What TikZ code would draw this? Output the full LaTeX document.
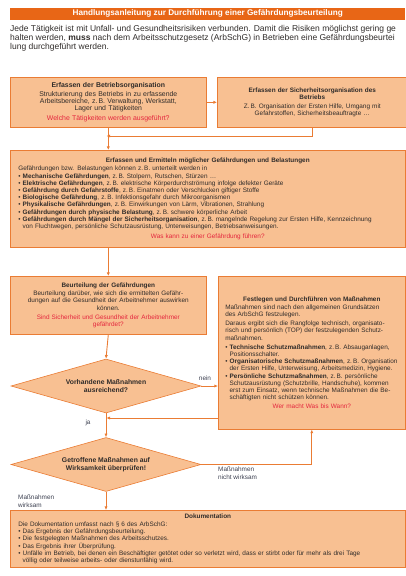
\documentclass[tikz,border=0pt]{standalone}
\usepackage{fontspec}
\setmainfont{Liberation Sans}
\usetikzlibrary{arrows.meta,shapes.geometric}

\definecolor{barorange}{RGB}{232,102,22}
\definecolor{boxfill}{RGB}{248,192,146}
\definecolor{lineorange}{RGB}{234,124,52}
\definecolor{askred}{RGB}{228,38,62}
\definecolor{txt}{RGB}{48,44,42}
\definecolor{lbl}{RGB}{60,64,80}

\newcommand{\ask}[1]{{\color{askred}#1}}
\newcommand{\bul}{\textbullet\ }
\newcommand{\ind}{\phantom{\textbullet\ }}

\begin{document}
\begin{tikzpicture}[x=1pt,y=-1pt]
  \tikzstyle{every node}=[font=\fontsize{6.4}{7.2}\selectfont, text=txt, inner sep=0pt]
  \tikzstyle{box}=[draw=lineorange, fill=boxfill, line width=0.6pt, anchor=north west, inner xsep=9pt]
  \tikzstyle{ask}=[diamond, aspect=3.5, draw=lineorange, fill=boxfill, line width=0.6pt, minimum width=190pt, minimum height=54pt, align=center, font=\bfseries\fontsize{6.8}{7.8}\selectfont]
  \tikzstyle{edge}=[lineorange, line width=0.9pt, -{Latex[length=3.6pt,width=3.2pt]}]
  \tikzstyle{lab}=[align=left, anchor=north west, text=lbl]

  \useasboundingbox (0,0) rectangle (406,576);

  % header and intro
  \node[anchor=north west, fill=barorange, minimum width=395pt, minimum height=12pt, text=white, font=\bfseries\fontsize{8.2}{9}\selectfont] (title) at (10,7.5) {Handlungsanleitung zur Durchführung einer Gefährdungsbeurteilung};
  \node[anchor=north west, align=left, font=\fontsize{8.5}{9.2}\selectfont] (intro) at (10,25) {Jede Tätigkeit ist mit Unfall- und Gesundheitsrisiken verbunden. Damit die Risiken möglichst gering ge\\halten werden, \textbf{muss} nach dem Arbeitsschutzgesetz (ArbSchG) in Betrieben eine Gefährdungsbeurtei\\lung durchgeführt werden.};

  % first row
  \node[box, minimum width=192pt, minimum height=50pt, text width=178pt, align=center, font=\fontsize{6.9}{7.4}\selectfont] (betrieb) at (10,77) {\textbf{Erfassen der Betriebsorganisation}\\[1pt]
    Strukturierung des Betriebs in zu erfassende\\Arbeitsbereiche, z.\,B. Verwaltung, Werkstatt,\\Lager und Tätigkeiten\\[2pt]
    \ask{Welche Tätigkeiten werden ausgeführt?}};
  \node[box, minimum width=188pt, minimum height=50pt, text width=172pt, align=center] (sicher) at (217,77) {\textbf{Erfassen der Sicherheitsorganisation des}\\\textbf{Betriebs}\\[2pt]
    Z.\,B. Organisation der Ersten Hilfe, Umgang mit\\Gefahrstoffen, Sicherheitsbeauftragte \dots};

  % hazards
  \node[box, minimum width=395pt, minimum height=97pt, text width=379pt, align=left, inner xsep=8pt] (ermitteln) at (10,150) {{\centering\textbf{Erfassen und Ermitteln möglicher Gefährdungen und Belastungen}\par}\vspace{1pt}
    Gefährdungen bzw. Belastungen können z.\,B. unterteilt werden in\\
    \bul\textbf{Mechanische Gefährdungen}, z.\,B. Stolpern, Rutschen, Stürzen \dots\\
    \bul\textbf{Elektrische Gefährdungen}, z.\,B. elektrische Körperdurchströmung infolge defekter Geräte\\
    \bul\textbf{Gefährdung durch Gefahrstoffe}, z.\,B. Einatmen oder Verschlucken giftiger Stoffe\\
    \bul\textbf{Biologische Gefährdung}, z.\,B. Infektionsgefahr durch Mikroorganismen\\
    \bul\textbf{Physikalische Gefährdungen}, z.\,B. Einwirkungen von Lärm, Vibrationen, Strahlung\\
    \bul\textbf{Gefährdungen durch physische Belastung}, z.\,B. schwere körperliche Arbeit\\
    \bul\textbf{Gefährdungen durch Mängel der Sicherheitsorganisation}, z.\,B. mangelnde Regelung zur Ersten Hilfe, Kennzeichnung\\
    \ind von Fluchtwegen, persönliche Schutzausrüstung, Unterweisungen, Betriebsanweisungen.\par\vspace{2.5pt}
    {\centering\ask{Was kann zu einer Gefährdung führen?}\par}};

  % assessment and measures
  \node[box, minimum width=192pt, minimum height=58pt, text width=178pt, align=center] (beurteilen) at (10,276) {\textbf{Beurteilung der Gefährdungen}\\[1pt]
    Beurteilung darüber, wie sich die ermittelten Gefähr-\\dungen auf die Gesundheit der Arbeitnehmer auswirken\\können.\\[2pt]
    \ask{Sind Sicherheit und Gesundheit der Arbeitnehmer}\\\ask{gefährdet?}};
  \node[box, minimum width=187pt, minimum height=153pt, text width=173pt, align=left, inner xsep=7pt] (festlegen) at (218,276) {{\centering\textbf{Festlegen und Durchführen von Maßnahmen}\par}\vspace{1pt}
    Maßnahmen sind nach den allgemeinen Grundsätzen\\des ArbSchG festzulegen.\par\vspace{2pt}
    Daraus ergibt sich die Rangfolge technisch, organisato-\\risch und persönlich (TOP) der festzulegenden Schutz-\\maßnahmen.\par\vspace{2pt}
    \bul\textbf{Technische Schutzmaßnahmen}, z.\,B. Absauganlagen,\\\ind Positionsschalter.\\
    \bul\textbf{Organisatorische Schutzmaßnahmen}, z.\,B. Organisation\\\ind der Ersten Hilfe, Unterweisung, Arbeitsmedizin, Hygiene.\\
    \bul\textbf{Persönliche Schutzmaßnahmen}, z.\,B. persönliche\\\ind Schutzausrüstung (Schutzbrille, Handschuhe), kommen\\\ind erst zum Einsatz, wenn technische Maßnahmen die Be-\\\ind schäftigten nicht schützen können.\par\vspace{2pt}
    {\centering\ask{Wer macht Was bis Wann?}\par}};

  % decisions
  \node[ask] (reicht) at (106,386) {Vorhandene Maßnahmen\\ausreichend?};
  \node[ask] (pruefen) at (106,464.5) {Getroffene Maßnahmen auf\\Wirksamkeit überprüfen!};

  % documentation
  \node[box, minimum width=395pt, minimum height=57pt, text width=379pt, align=left, inner xsep=8pt] (doku) at (10,510) {{\centering\textbf{Dokumentation}\par}\vspace{1pt}
    Die Dokumentation umfasst nach § 6 des ArbSchG:\\
    \bul Das Ergebnis der Gefährdungsbeurteilung.\\
    \bul Die festgelegten Maßnahmen des Arbeitsschutzes.\\
    \bul Das Ergebnis ihrer Überprüfung.\\
    \bul Unfälle im Betrieb, bei denen ein Beschäftigter getötet oder so verletzt wird, dass er stirbt oder für mehr als drei Tage\\
    \ind völlig oder teilweise arbeits- oder dienstunfähig wird.};

  % labels
  \node[lab, anchor=center] (nein) at (205,378) {nein};
  \node[lab, anchor=center] (ja) at (88,423) {ja};
  \node[lab] (nwirksam) at (218,467) {Maßnahmen\\nicht wirksam};
  \node[lab] (wirksam) at (18,495) {Maßnahmen\\wirksam};

  \coordinate (join) at (106,136);
  \coordinate (back) at (106,418);

  % connectors
  \draw[edge] (betrieb.east) -- (sicher.west);
  \draw[edge] (betrieb.south) -- (ermitteln.north -| betrieb.south);
  \draw[edge, shorten >=0.4pt] (sicher.south) |- (join);
  \draw[edge] (ermitteln.south -| betrieb.south) -- (beurteilen.north);
  \draw[edge] (beurteilen.south) -- (reicht.north);
  \draw[edge] (reicht.east) -- (reicht.east -| festlegen.west);
  \draw[edge] (reicht.south) -- (pruefen.north);
  \draw[edge, shorten >=0.4pt] (festlegen.west |- back) -- (back);
  \draw[edge] (pruefen.east) -| (festlegen.south);
  \draw[edge] (pruefen.south) -- (doku.north -| pruefen.south);
\end{tikzpicture}
\end{document}
